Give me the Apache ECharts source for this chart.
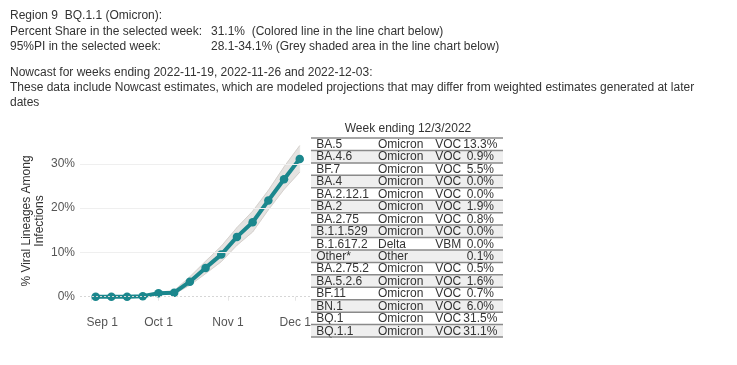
<!DOCTYPE html>
<html>
<head>
<meta charset="utf-8">
<script src="https://cdn.jsdelivr.net/npm/echarts@6/dist/echarts.min.js"></script>
<style>
html,body{margin:0;padding:0;background:#fff;}
#c{width:737px;height:365px;}
</style>
</head>
<body>
<div id="c"></div>
<script>
// ---- data ----
var weekDates = ['2022-09-03','2022-09-10','2022-09-17','2022-09-24','2022-10-01','2022-10-08','2022-10-15','2022-10-22','2022-10-29','2022-11-05','2022-11-12','2022-11-19','2022-11-26','2022-12-03'];
var shareValues = [0.0, 0.0, 0.0, 0.1, 0.8, 0.9, 3.4, 6.5, 9.5, 13.5, 16.8, 21.7, 26.5, 31.1];
var lowerPI = [0.0, 0.0, 0.0, 0.0, 0.6, 0.6, 2.6, 5.2, 7.9, 11.6, 14.6, 19.6, 24.2, 28.1];
var upperPI = [0.1, 0.1, 0.1, 0.2, 1.0, 1.4, 4.5, 8.0, 11.4, 15.6, 19.3, 24.0, 29.3, 34.1];
var xTickDates = ['2022-09-01','2022-10-01','2022-11-01','2022-12-01'];
var xTickLabels = ['Sep 1','Oct 1','Nov 1','Dec 1'];
var yTickValues = [0, 10, 20, 30];

var tableTitle = 'Week ending 12/3/2022';
var lineages = ['BA.5','BA.4.6','BF.7','BA.4','BA.2.12.1','BA.2','BA.2.75','B.1.1.529','B.1.617.2','Other*','BA.2.75.2','BA.5.2.6','BF.11','BN.1','BQ.1','BQ.1.1'];
var whoLabels = ['Omicron','Omicron','Omicron','Omicron','Omicron','Omicron','Omicron','Omicron','Delta','Other','Omicron','Omicron','Omicron','Omicron','Omicron','Omicron'];
var typeLabels = ['VOC','VOC','VOC','VOC','VOC','VOC','VOC','VOC','VBM','','VOC','VOC','VOC','VOC','VOC','VOC'];
var shareLabels = ['13.3%','0.9%','5.5%','0.0%','0.0%','1.9%','0.8%','0.0%','0.0%','0.1%','0.5%','1.6%','0.7%','6.0%','31.5%','31.1%'];

var headerLines = [
  ['Region 9  BQ.1.1 (Omicron):', ''],
  ['Percent Share in the selected week:', '31.1%  (Colored line in the line chart below)'],
  ['95%PI in the selected week:', '28.1-34.1% (Grey shaded area in the line chart below)'],
  ['', ''],
  ['Nowcast for weeks ending 2022-11-19, 2022-11-26 and 2022-12-03:', ''],
  ['These data include Nowcast estimates, which are modeled projections that may differ from weighted estimates generated at later', ''],
  ['dates', '']
];
var yAxisTitle = '% Viral Lineages Among\nInfections';

// ---- helpers ----
function parseLocal(s){ var p = s.split('-'); return new Date(+p[0], +p[1]-1, +p[2]).getTime(); }
var xTickValues = xTickDates.map(parseLocal);
var times = weekDates.map(parseLocal);

var lineData = times.map(function(t,i){ return [t, shareValues[i]]; });
var lowerData = times.map(function(t,i){ return [t, lowerPI[i]]; });
var upperData = times.map(function(t,i){ return [t, upperPI[i]]; });
var bandSegs = [];
for (var s = 0; s < times.length - 1; s++) {
  bandSegs.push([times[s], lowerPI[s], upperPI[s], times[s+1], lowerPI[s+1], upperPI[s+1]]);
}

var chart = echarts.init(document.getElementById('c'), null, {renderer:'canvas'});

var graphics = [];
var txtColor = '#333';
var FONT = '12px "Liberation Sans", Arial, sans-serif';
var lineYs = [16, 32, 47, 62, 73, 88, 103];
headerLines.forEach(function(l, i){
  var y = lineYs[i];
  if (l[0]) graphics.push({type:'text', x:10, y:y, style:{text:l[0], font:FONT, fill:txtColor, verticalAlign:'middle'}});
  if (l[1]) graphics.push({type:'text', x:211, y:y, style:{text:l[1], font:FONT, fill:txtColor, verticalAlign:'middle'}});
});
graphics.push({type:'text', x:33, y:221, rotation:Math.PI/2, style:{text:yAxisTitle, font:FONT, fill:txtColor, align:'center', verticalAlign:'middle', lineHeight:13}});
graphics.push({type:'text', x:408, y:129, style:{text:tableTitle, font:FONT, fill:txtColor, align:'center', verticalAlign:'middle'}});

var tableData = lineages.map(function(l, i){ return [0, i]; });

function renderRow(params, api){
  var i = params.dataIndex;
  var p0 = api.coord([0, i]);
  var p1 = api.coord([1, i]);
  var h = api.size([0, 1])[1];
  var w = p1[0] - p0[0];
  var top = p0[1] - h/2;
  var cy = p0[1] + 0.5;
  var children = [
    {type:'rect', shape:{x:p0[0], y:top, width:w, height:h}, style:{fill: i % 2 === 1 ? '#efefef' : '#ffffff'}},
    {type:'line', shape:{x1:p0[0], y1:top, x2:p1[0], y2:top}, style:{stroke:'#8a8a8a', lineWidth:1.5}},
    {type:'text', x:p0[0] + 0.027*w, y:cy, style:{text:lineages[i], font:FONT, fill:txtColor, verticalAlign:'middle', align:'left'}},
    {type:'text', x:p0[0] + 0.349*w, y:cy, style:{text:whoLabels[i], font:FONT, fill:txtColor, verticalAlign:'middle', align:'left'}},
    {type:'text', x:p0[0] + 0.715*w, y:cy, style:{text:typeLabels[i], font:FONT, fill:txtColor, verticalAlign:'middle', align:'center'}},
    {type:'text', x:p0[0] + 0.882*w, y:cy, style:{text:shareLabels[i], font:FONT, fill:txtColor, verticalAlign:'middle', align:'center'}}
  ];
  if (i === lineages.length - 1) {
    children.push({type:'line', shape:{x1:p0[0], y1:top+h, x2:p1[0], y2:top+h}, style:{stroke:'#8a8a8a', lineWidth:1.5}});
  }
  return {type:'group', children:children};
}

function renderBand(params, api){
  var a = api.coord([api.value(0), api.value(1)]);
  var b = api.coord([api.value(3), api.value(4)]);
  var c = api.coord([api.value(3), api.value(5)]);
  var d = api.coord([api.value(0), api.value(2)]);
  return {type:'polygon', shape:{points:[a, b, c, d]}, style:{fill:'#e5e3e1', stroke:'#e5e3e1', lineWidth:0.5}};
}

var option = {
  animation:false,
  backgroundColor:'#fff',
  textStyle:{fontFamily:'"Liberation Sans", Arial, sans-serif'},
  graphic: graphics,
  grid:[
    {left:80, top:141.6, width:230, height:168.4},
    {left:311, top:138, width:192, height:199}
  ],
  xAxis:[
    {type:'value', gridIndex:0, scale:true,
     min: parseLocal('2022-08-27'), max: parseLocal('2022-12-07') + 14*3600*1000,
     axisLine:{show:false},
     axisTick:{show:true, customValues:xTickValues, length:4, lineStyle:{color:'#e4e4e4'}},
     splitLine:{show:false},
     axisLabel:{customValues:xTickValues, color:'#555', fontSize:12, margin:7,
       formatter:function(v){
         for (var k=0;k<xTickValues.length;k++){ if (Math.abs(xTickValues[k]-v) < 43200000) return k===0 ? '{s|'+xTickLabels[k]+'}' : xTickLabels[k]; }
         return '';
       },
       rich:{s:{padding:[0,0,0,22], color:'#555', fontSize:12}}
     }},
    {type:'value', gridIndex:1, min:0, max:1, show:false}
  ],
  yAxis:[
    {type:'value', gridIndex:0, min:-3, max:35,
     axisLine:{show:false}, axisTick:{show:false},
     splitLine:{show:false},
     axisLabel:{customValues:yTickValues, color:'#555', fontSize:12, margin:5, formatter:function(v){ return v + '%'; }}},
    {type:'category', gridIndex:1, data:lineages, inverse:true, show:false}
  ],
  series:[
    {type:'line', xAxisIndex:0, yAxisIndex:0, data:[], silent:true,
     markLine:{silent:true, symbol:'none', label:{show:false},
       data: yTickValues.map(function(v){ return {yAxis:v, lineStyle:{color: v===0 ? '#d6d6d6' : '#efefef', width:1, type: v===0 ? [2,2] : 'solid'}}; })}},
    {type:'custom', name:'PI', xAxisIndex:0, yAxisIndex:0, data:bandSegs, renderItem:renderBand, silent:true,
     encode:{x:[0,3], y:[1,2,4,5]}},
    {type:'line', name:'lower', xAxisIndex:0, yAxisIndex:0, data:lowerData, symbol:'none', silent:true,
     lineStyle:{width:0.8, color:'#cfcac6'}},
    {type:'line', name:'upper', xAxisIndex:0, yAxisIndex:0, data:upperData, symbol:'none', silent:true,
     lineStyle:{width:0.8, color:'#cfcac6'}},
    {type:'line', name:'BQ.1.1', xAxisIndex:0, yAxisIndex:0, data:lineData, symbol:'circle', symbolSize:8.5,
     lineStyle:{width:4, color:'#1b878d'}, itemStyle:{color:'#1b878d'}},
    {type:'custom', xAxisIndex:1, yAxisIndex:1, data:tableData, renderItem:renderRow, silent:true}
  ]
};
chart.setOption(option);
</script>
</body>
</html>
